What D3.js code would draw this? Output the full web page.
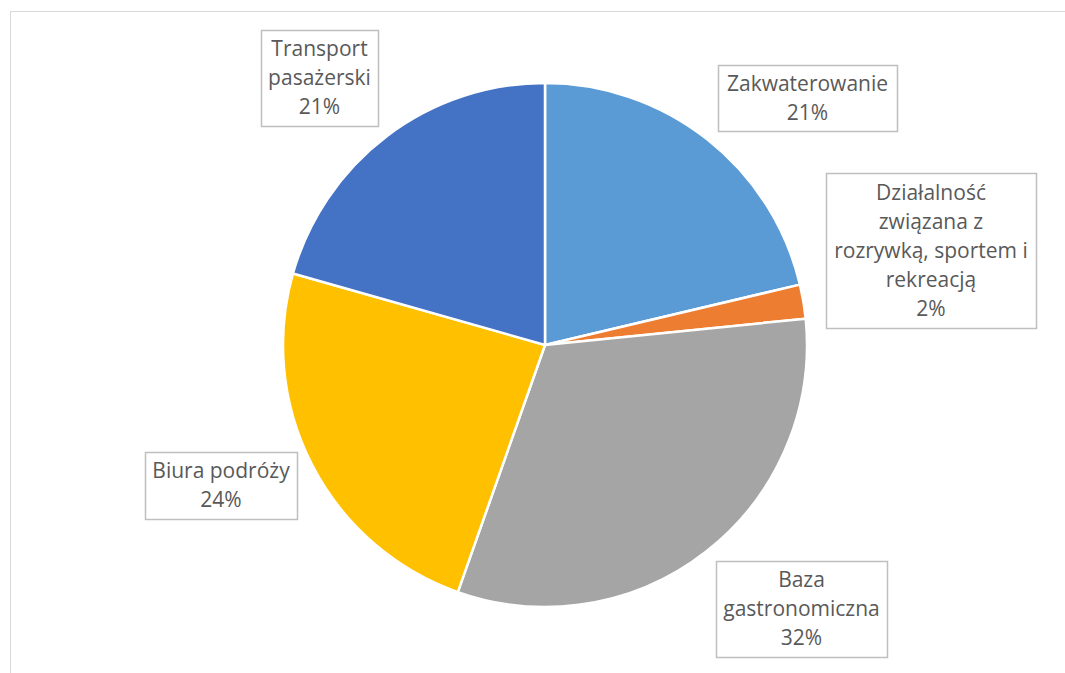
<!DOCTYPE html>
<html>
<head>
<meta charset="utf-8">
<script src="https://cdn.jsdelivr.net/npm/d3@7"></script>
<style>
  html, body { margin: 0; padding: 0; background: #fff; }
  svg { display: block; }
  .lbl { font-family: "Open Sans", sans-serif; font-size: 21px; fill: #595959; }
</style>
</head>
<body>
<div id="chart"></div>
<script>
// slice data, clockwise from 12 o'clock
const categories = [
  'Zakwaterowanie',
  'Działalność związana z rozrywką, sportem i rekreacją',
  'Baza gastronomiczna',
  'Biura podróży',
  'Transport pasażerski'
];
const values = [21.3, 2.1, 32.0, 24.0, 20.6];
const labelLines = [
  ['Zakwaterowanie'],
  ['Działalność', 'związana z', 'rozrywką, sportem i', 'rekreacją'],
  ['Baza', 'gastronomiczna'],
  ['Biura podróży'],
  ['Transport', 'pasażerski']
];
const colors = ['#5B9BD5', '#ED7D31', '#A5A5A5', '#FFC000', '#4472C4'];

// label box layout (left, top, width, height)
const labelBoxes = [
  {x: 718, y: 65, w: 179, h: 66},
  {x: 826, y: 173, w: 210, h: 155},
  {x: 716, y: 561, w: 171, h: 96},
  {x: 145, y: 452, w: 152, h: 67},
  {x: 261, y: 30, w: 117, h: 96}
];

const width = 1065, height = 673;
const cx = 545, cy = 345, radius = 262;
const lineH = 29;

const svg = d3.select('#chart').append('svg')
    .attr('width', width)
    .attr('height', height);

// chart area frame
svg.append('rect')
    .attr('x', 10.5).attr('y', 11.5)
    .attr('width', width + 20).attr('height', height + 20)
    .attr('fill', 'none')
    .attr('stroke', '#d9d9d9')
    .attr('stroke-width', 1);

const total = d3.sum(values);
const pie = d3.pie().sort(null).value(d => d)(values);
const arc = d3.arc().innerRadius(0).outerRadius(radius);

const g = svg.append('g').attr('transform', `translate(${cx},${cy})`);
g.selectAll('path')
    .data(pie)
    .enter()
    .append('path')
    .attr('d', arc)
    .attr('fill', (d, i) => colors[i])
    .attr('stroke', '#fff')
    .attr('stroke-width', 2.5)
    .attr('stroke-linejoin', 'round');

// data labels
const fmt = d3.format('.0%');
const labels = svg.selectAll('g.label')
    .data(values)
    .enter()
    .append('g')
    .attr('class', 'label');

labels.append('rect')
    .attr('x', (d, i) => labelBoxes[i].x + 0.5)
    .attr('y', (d, i) => labelBoxes[i].y + 0.5)
    .attr('width', (d, i) => labelBoxes[i].w)
    .attr('height', (d, i) => labelBoxes[i].h)
    .attr('fill', '#fff')
    .attr('stroke', '#bfbfbf')
    .attr('stroke-width', 1.5);

labels.each(function (d, i) {
    const box = labelBoxes[i];
    const lines = labelLines[i].concat([fmt(Math.round(d / total * 100) / 100)]);
    const startY = box.y + box.h / 2 - (lines.length - 1) * lineH / 2;
    const t = d3.select(this).append('text')
        .attr('class', 'lbl')
        .attr('text-anchor', 'middle');
    lines.forEach((ln, k) => {
        t.append('tspan')
            .attr('x', box.x + box.w / 2)
            .attr('y', startY + k * lineH)
            .attr('dy', '0.35em')
            .text(ln);
    });
});
</script>
</body>
</html>
